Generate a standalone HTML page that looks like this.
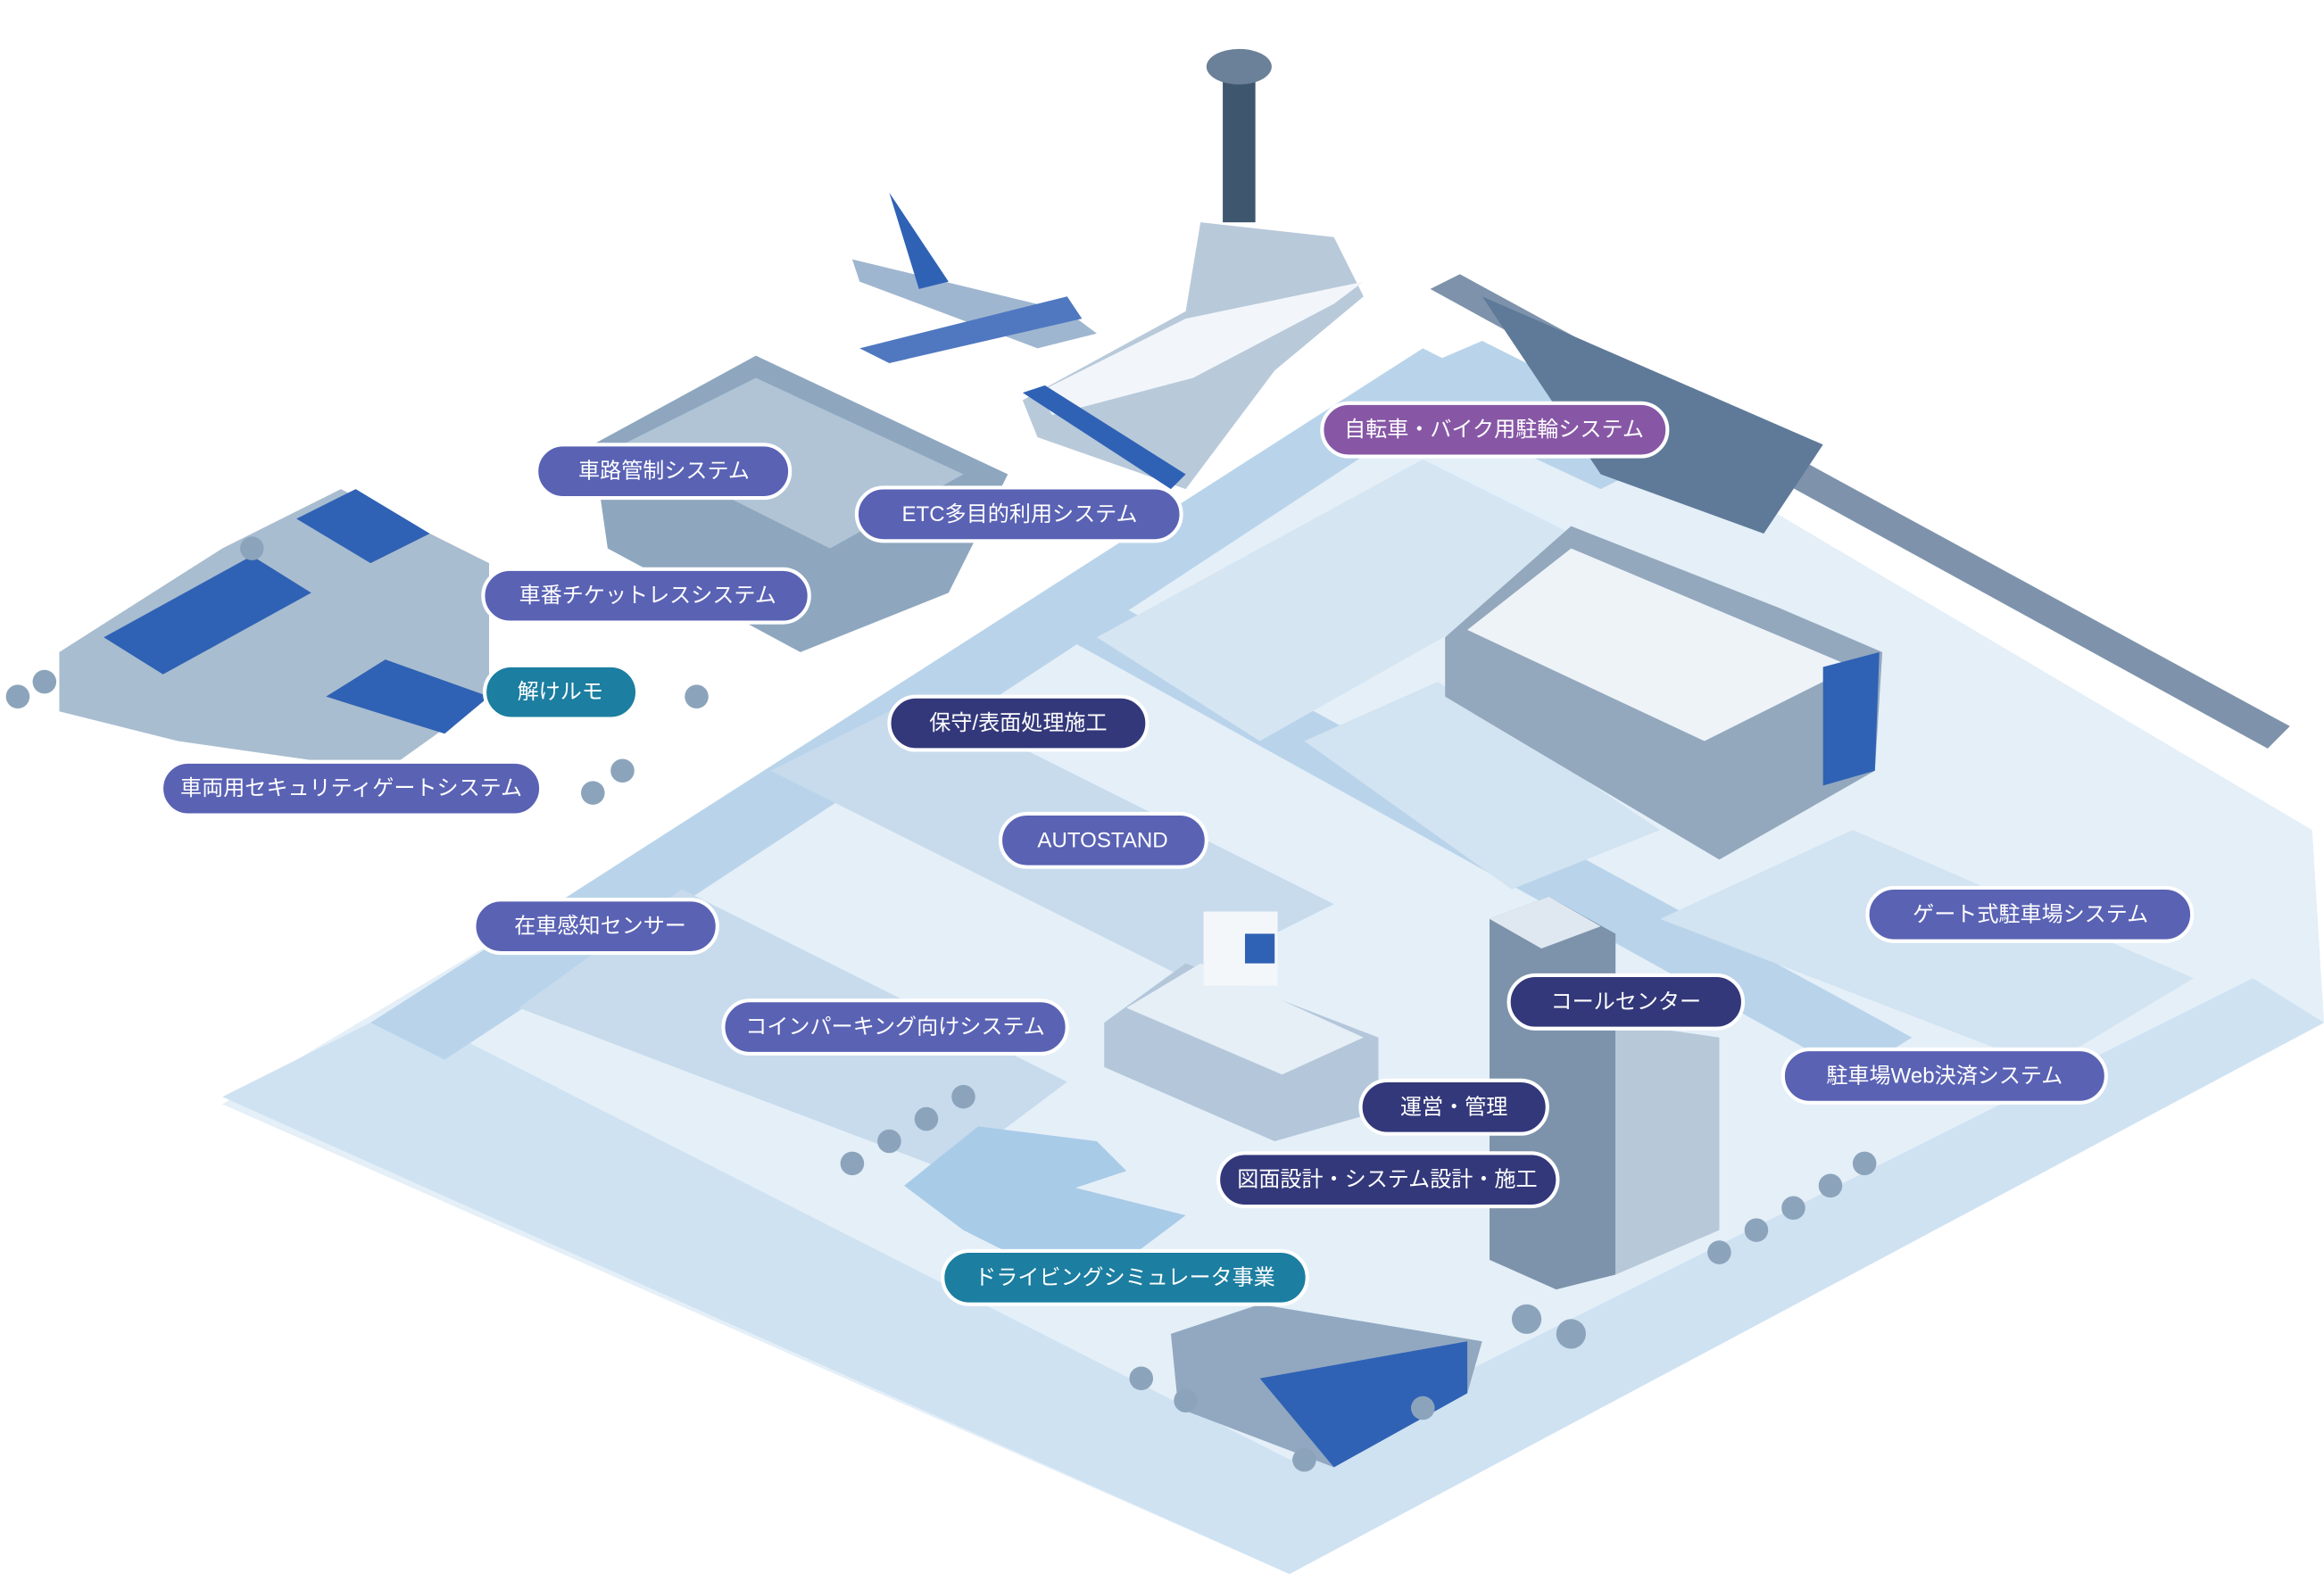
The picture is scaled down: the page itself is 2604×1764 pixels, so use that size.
<!DOCTYPE html>
<html><head><meta charset="utf-8">
<style>
html,body{margin:0;padding:0;background:#fff;}
svg{display:block;}
text{font-family:"Liberation Sans","Noto Sans CJK JP",sans-serif;font-size:14.5px;fill:#fff;text-anchor:middle;dominant-baseline:central;}
</style></head>
<body>
<svg width="2604" height="1764" viewBox="0 0 1568 1062" preserveAspectRatio="none" xmlns="http://www.w3.org/2000/svg">
<rect width="1568" height="1062" fill="#fff"/>
<!-- ground -->
<polygon points="150,745 560,500 960,250 1120,300 1560,560 1568,690 870,1062" fill="#e4eff8"/>
<!-- bottom roads -->
<polygon points="150,740 270,680 900,1000 870,1062" fill="#cfe2f2"/>
<polygon points="870,1062 840,1000 1520,660 1568,690" fill="#cfe2f2"/>
<!-- diagonal road -->
<polygon points="250,690 960,235 1000,255 300,715" fill="#b9d4ea"/>
<polygon points="700,420 740,400 1290,700 1250,725" fill="#b9d4ea"/>
<polygon points="930,260 1000,230 1140,300 1080,330" fill="#b9d4ea"/>
<!-- parking lots -->
<polygon points="520,520 620,470 900,610 800,660" fill="#c7dbec"/>
<polygon points="350,680 460,600 720,730 640,790" fill="#c7dbec"/>
<polygon points="740,430 960,310 1080,370 850,500" fill="#d5e5f2"/>
<polygon points="1120,620 1250,560 1480,660 1380,720" fill="#d2e3f1"/>
<polygon points="880,500 970,460 1120,560 1020,600" fill="#d2e3f1"/>
<!-- left houses -->
<polygon points="40,440 150,370 230,330 330,380 330,470 260,520 120,500 40,480" fill="#a9bdd0"/>
<polygon points="70,430 170,375 210,400 110,455" fill="#2f62b5"/>
<polygon points="200,350 240,330 290,360 250,380" fill="#2f62b5"/>
<polygon points="220,470 260,445 330,470 300,495" fill="#2f62b5"/>
<!-- parking structure -->
<polygon points="400,300 510,240 680,320 640,400 540,440 410,370" fill="#8ea7bf"/>
<polygon points="420,300 510,255 650,320 560,370" fill="#b0c4d6"/>
<!-- airport terminal & tower -->
<polygon points="690,270 800,210 810,150 900,160 920,200 860,250 800,330 700,295" fill="#b8c9da"/>
<polygon points="700,265 800,215 920,190 900,205 805,255 710,280" fill="#f2f6fa"/>
<polygon points="690,265 705,260 800,320 790,330" fill="#2f62b5"/>
<rect x="825" y="50" width="22" height="100" fill="#3f566f"/>
<ellipse cx="836" cy="45" rx="22" ry="12" fill="#6b8199"/>
<!-- airplane -->
<polygon points="575,175 720,210 740,225 700,235 580,190" fill="#9fb6d0"/>
<polygon points="600,130 640,190 620,195" fill="#2f62b5"/>
<polygon points="580,235 720,200 730,215 600,245" fill="#4f78c0"/>
<!-- train line -->
<polygon points="965,195 985,185 1545,490 1530,505" fill="#7e93ab"/>
<polygon points="1000,200 1230,300 1190,360 1080,320" fill="#5f7a99"/>
<!-- store -->
<polygon points="975,430 1060,355 1200,410 1270,440 1265,520 1160,580 975,470" fill="#93a8bd"/>
<polygon points="990,425 1060,370 1250,450 1150,500" fill="#eef3f8"/>
<polygon points="1230,450 1268,440 1265,520 1230,530" fill="#2f62b5"/>
<!-- hospital -->
<polygon points="745,690 800,650 930,700 930,750 860,770 745,720" fill="#b4c7da"/>
<polygon points="760,680 810,650 920,700 865,725" fill="#e6eef6"/>
<rect x="812" y="615" width="50" height="50" fill="#f4f7fa"/>
<rect x="840" y="630" width="20" height="20" fill="#2f62b5"/>
<!-- high-rise -->
<polygon points="1005,620 1045,605 1090,630 1090,860 1050,870 1005,850" fill="#7d93ab"/>
<polygon points="1005,620 1045,605 1080,625 1040,640" fill="#dfe8f1"/>
<polygon points="1090,690 1160,700 1160,830 1090,860" fill="#b7c8d9"/>
<!-- lake -->
<polygon points="610,800 660,760 740,770 760,790 700,810 650,830" fill="#a8cbe8"/>
<polygon points="650,830 720,800 800,820 760,850 680,845" fill="#a8cbe8"/>
<!-- driving school -->
<polygon points="790,900 850,880 1000,905 990,940 900,990 795,950" fill="#91a8c0"/>
<polygon points="850,930 990,905 990,940 900,990" fill="#2f62b5"/>
<!-- trees -->
<g fill="#8ca4bb">
<circle cx="30" cy="460" r="8"/><circle cx="12" cy="470" r="8"/><circle cx="170" cy="370" r="8"/>
<circle cx="470" cy="470" r="8"/><circle cx="420" cy="520" r="8"/><circle cx="400" cy="535" r="8"/>
<circle cx="575" cy="785" r="8"/><circle cx="600" cy="770" r="8"/><circle cx="625" cy="755" r="8"/><circle cx="650" cy="740" r="8"/>
<circle cx="770" cy="930" r="8"/><circle cx="800" cy="945" r="8"/><circle cx="880" cy="985" r="8"/><circle cx="960" cy="950" r="8"/>
<circle cx="1160" cy="845" r="8"/><circle cx="1185" cy="830" r="8"/><circle cx="1210" cy="815" r="8"/><circle cx="1235" cy="800" r="8"/><circle cx="1258" cy="785" r="8"/>
<circle cx="1030" cy="890" r="10"/><circle cx="1060" cy="900" r="10"/>
</g>
<!-- labels -->
<g stroke="#fff" stroke-width="2.5">
<rect x="362" y="300" width="171" height="36" rx="18" fill="#5a62b4"/>
<rect x="578" y="329" width="219" height="36" rx="18" fill="#5a62b4"/>
<rect x="326" y="384" width="220" height="36" rx="18" fill="#5a62b4"/>
<rect x="327" y="449" width="103" height="36" rx="18" fill="#1c7ea0"/>
<rect x="109" y="514" width="256" height="36" rx="18" fill="#5a62b4"/>
<rect x="600" y="470" width="174" height="36" rx="18" fill="#33387a"/>
<rect x="675" y="549" width="139" height="36" rx="18" fill="#5a62b4"/>
<rect x="320" y="607" width="164" height="36" rx="18" fill="#5a62b4"/>
<rect x="488" y="675" width="232" height="36" rx="18" fill="#5a62b4"/>
<rect x="892" y="272" width="233" height="36" rx="18" fill="#8757a6"/>
<rect x="1260" y="599" width="219" height="36" rx="18" fill="#5a62b4"/>
<rect x="1018" y="658" width="158" height="36" rx="18" fill="#33387a"/>
<rect x="1203" y="708" width="218" height="36" rx="18" fill="#5a62b4"/>
<rect x="918" y="729" width="126" height="36" rx="18" fill="#33387a"/>
<rect x="822" y="778" width="229" height="36" rx="18" fill="#33387a"/>
<rect x="636" y="844" width="246" height="36" rx="18" fill="#1c7ea0"/>
</g>
<text x="448" y="318">車路管制システム</text>
<text x="688" y="347">ETC多目的利用システム</text>
<text x="437" y="402">車番チケットレスシステム</text>
<text x="378" y="467">解けルモ</text>
<text x="237" y="532">車両用セキュリティゲートシステム</text>
<text x="687" y="488">保守/表面処理施工</text>
<text x="744" y="567">AUTOSTAND</text>
<text x="405" y="625">在車感知センサー</text>
<text x="604" y="693">コインパーキング向けシステム</text>
<text x="1008" y="290">自転車・バイク用駐輪システム</text>
<text x="1370" y="617">ゲート式駐車場システム</text>
<text x="1097" y="676">コールセンター</text>
<text x="1312" y="726">駐車場Web決済システム</text>
<text x="981" y="747">運営・管理</text>
<text x="936" y="796">図面設計・システム設計・施工</text>
<text x="759" y="862">ドライビングシミュレータ事業</text>
</svg>
</body></html>
